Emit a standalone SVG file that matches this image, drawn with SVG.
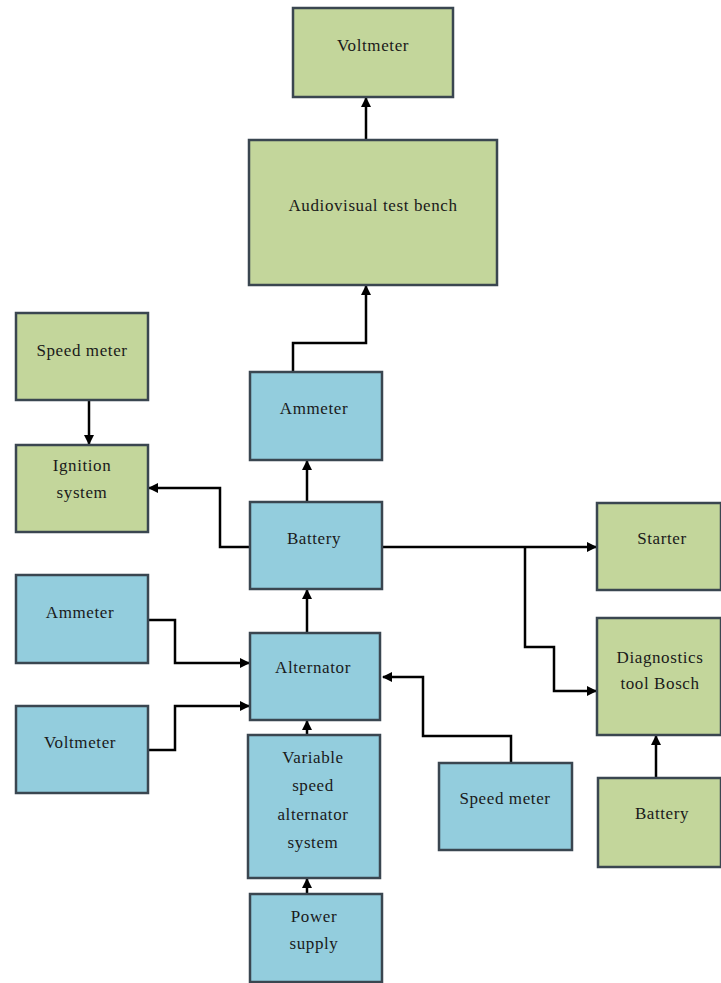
<svg xmlns="http://www.w3.org/2000/svg" width="721" height="983" viewBox="0 0 721 983">
<style>
.g{fill:#c3d69b;stroke:#3a4650;stroke-width:2.5}
.b{fill:#93cddd;stroke:#3a4650;stroke-width:2.5}
text{font-family:"Liberation Serif","Times New Roman",serif;font-size:17px;letter-spacing:0.6px;fill:#1a1a1a;text-anchor:middle}
.c{fill:none;stroke:#000;stroke-width:2.5;marker-end:url(#ah)}
</style>
<defs>
<marker id="ah" viewBox="0 0 10 10" refX="9" refY="5" markerWidth="4" markerHeight="4" orient="auto" markerUnits="strokeWidth">
<path d="M0,0 L10,5 L0,10 z" fill="#000"/>
</marker>
</defs>
<rect width="721" height="983" fill="#fff"/>
<g id="connectors">
<path class="c" d="M366,140 V98"/>
<path class="c" d="M293,372 V343 H366 V286"/>
<path class="c" d="M307,502 V461"/>
<path class="c" d="M89,400 V444"/>
<path class="c" d="M250,547 H220 V488 H149"/>
<path class="c" d="M382,547 H596"/>
<path class="c" d="M525,547 V647 H554 V691 H596"/>
<path class="c" d="M656,778 V736"/>
<path class="c" d="M511,763 V736 H423 V677 H383"/>
<path class="c" d="M307,633 V590"/>
<path class="c" d="M148,620 H175 V663 H249"/>
<path class="c" d="M148,750 H175 V706 H249"/>
<path class="c" d="M307,735 V721"/>
<path class="c" d="M307,894 V879"/>
</g>
<g id="voltmeter-top"><rect class="g" x="293" y="8" width="160" height="89"/><text x="373" y="51">Voltmeter</text></g>
<g id="av-bench"><rect class="g" x="249" y="140" width="248" height="145"/><text x="373" y="211">Audiovisual test bench</text></g>
<g id="speedmeter-left"><rect class="g" x="16" y="313" width="132" height="87"/><text x="82" y="356">Speed meter</text></g>
<g id="ignition"><rect class="g" x="16" y="445" width="132" height="87"/><text x="82" y="471">Ignition</text><text x="82" y="498">system</text></g>
<g id="ammeter-top"><rect class="b" x="250" y="372" width="132" height="88"/><text x="314" y="414">Ammeter</text></g>
<g id="battery-main"><rect class="b" x="250" y="502" width="132" height="87"/><text x="314" y="544">Battery</text></g>
<g id="starter"><rect class="g" x="597" y="503" width="124" height="87"/><text x="662" y="544">Starter</text></g>
<g id="diagnostics"><rect class="g" x="597" y="618" width="124" height="117"/><text x="660" y="663">Diagnostics</text><text x="660" y="689">tool Bosch</text></g>
<g id="battery-right"><rect class="g" x="598" y="778" width="123" height="89"/><text x="662" y="819">Battery</text></g>
<g id="speedmeter-right"><rect class="b" x="439" y="763" width="133" height="87"/><text x="505" y="804">Speed meter</text></g>
<g id="ammeter-left"><rect class="b" x="16" y="575" width="132" height="88"/><text x="80" y="618">Ammeter</text></g>
<g id="voltmeter-left"><rect class="b" x="16" y="706" width="132" height="87"/><text x="80" y="748">Voltmeter</text></g>
<g id="alternator"><rect class="b" x="250" y="633" width="130" height="87"/><text x="313" y="673">Alternator</text></g>
<g id="variable-speed"><rect class="b" x="248" y="735" width="132" height="143"/><text x="313" y="763">Variable</text><text x="313" y="791">speed</text><text x="313" y="820">alternator</text><text x="313" y="848">system</text></g>
<g id="power-supply"><rect class="b" x="250" y="894" width="132" height="88"/><text x="314" y="922">Power</text><text x="314" y="949">supply</text></g>
</svg>
